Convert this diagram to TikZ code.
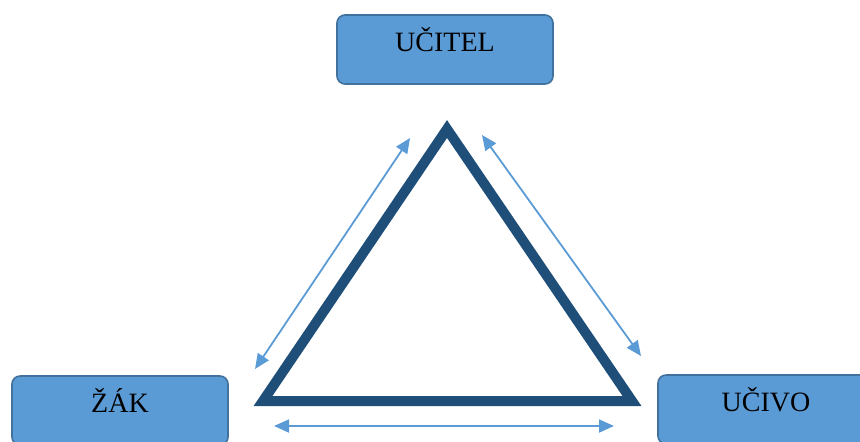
\documentclass[tikz,border=0pt]{standalone}
\usepackage{fontspec}
\setmainfont{Liberation Serif}
\usepackage{tikz}
\usetikzlibrary{arrows.meta}
\definecolor{boxfill}{HTML}{5B9BD5}
\definecolor{boxline}{HTML}{41719C}
\definecolor{triline}{HTML}{1F4E79}
\tikzset{
  rolebox/.style={draw=boxline, line width=0.8pt, fill=boxfill, rounded corners=4pt,
    minimum width=108pt, minimum height=34.5pt, inner sep=0pt,
    font=\fontsize{14}{16}\selectfont, text height=12pt, text depth=10.5pt},
  relarrow/.style={boxfill, line width=0.9pt,
    {Triangle[length=7.5pt,width=6.5pt]}-{Triangle[length=7.5pt,width=6.5pt]}},
}

\begin{document}
\begin{tikzpicture}[x=0.5pt,y=-0.5pt]
    \useasboundingbox (0,0) rectangle (860,441);
    \clip (0,0) rectangle (860,441);
    % roles
    \node[rolebox] (ucitel) at (445,49.5) {UČITEL};
    \node[rolebox] (zak)    at (120,410.5) {ŽÁK};
    \node[rolebox] (ucivo)  at (766,409.5) {UČIVO};
    % triangle
    \coordinate (top)   at (447,129);
    \coordinate (left)  at (263,401);
    \coordinate (right) at (632,401);
    \draw   [triline, line width=5pt](top) -- (right) -- (left) -- cycle;
    % arrows
    \coordinate (ls) at (255,369); \coordinate (le) at (410,138);
    \coordinate (rs) at (482,135); \coordinate (re) at (641,356);
    \coordinate (bs) at (274,426); \coordinate (be) at (614,426);
    \draw   [relarrow](ls) -- (le);
    \draw   [relarrow](rs) -- (re);
    \draw   [relarrow](bs) -- (be);
\end{tikzpicture}
\end{document}
